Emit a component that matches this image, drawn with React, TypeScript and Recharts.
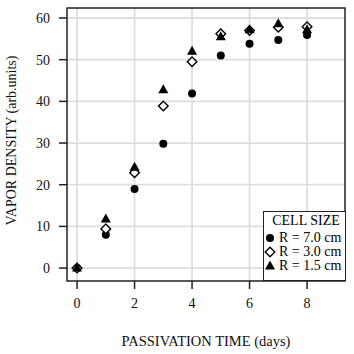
import { ScatterChart, Scatter, XAxis, YAxis, CartesianGrid, ReferenceArea } from 'recharts';

const days = [0, 1, 2, 3, 4, 5, 6, 7, 8];
const r70 = [0, 8, 19, 29.8, 41.9, 51, 53.8, 54.7, 55.9];
const r30 = [0, 9.4, 22.9, 38.9, 49.5, 56.2, 57, 57.8, 57.9];
const r15 = [0, 11.8, 24.2, 42.8, 52, 55.5, 57.2, 58.6, 57.2];

const xTicks = [0, 2, 4, 6, 8];
const yTicks = [0, 10, 20, 30, 40, 50, 60];
const xDomain: [number, number] = [-0.35, 9.32];
const yDomain: [number, number] = [-3.1, 62.4];

const toPoints = (vals: number[]) => days.map((d, i) => ({ x: d, y: vals[i] }));

const FONT = '"Liberation Serif", "Times New Roman", serif';
const INK = '#222';

function CircleDot({ cx, cy }: any) {
  return <circle cx={cx} cy={cy} r={4} fill="#000" />;
}

function DiamondDot({ cx, cy }: any) {
  const s = 4.8;
  return (
    <polygon
      points={`${cx},${cy - s} ${cx + s},${cy} ${cx},${cy + s} ${cx - s},${cy}`}
      fill="#fff"
      stroke="#000"
      strokeWidth={1.4}
    />
  );
}

function TriangleDot({ cx, cy }: any) {
  const w = 5;
  return (
    <polygon
      points={`${cx},${cy - 5.5} ${cx + w},${cy + 3.5} ${cx - w},${cy + 3.5}`}
      fill="#000"
    />
  );
}

function LegendBox() {
  const rows = [
    { label: 'R = 7.0 cm', icon: <circle cx={6} cy={7} r={4} fill="#000" /> },
    {
      label: 'R = 3.0 cm',
      icon: <polygon points="6,2.2 10.8,7 6,11.8 1.2,7" fill="#fff" stroke="#000" strokeWidth={1.4} />,
    },
    { label: 'R = 1.5 cm', icon: <polygon points="6,1.5 11,10.5 1,10.5" fill="#000" /> },
  ];
  return (
    <div
      style={{
        position: 'absolute',
        left: 263,
        top: 211,
        width: 83,
        height: 70,
        boxSizing: 'border-box',
        border: `1.5px solid ${INK}`,
        background: '#fff',
        fontFamily: FONT,
        fontSize: 14,
        color: '#000',
        padding: '2px 0 0 0',
        lineHeight: '14px',
        whiteSpace: 'nowrap',
      }}
    >
      <div style={{ textAlign: 'center', marginBottom: 3, paddingLeft: 3 }}>CELL SIZE</div>
      {rows.map((r) => (
        <div key={r.label} style={{ display: 'flex', alignItems: 'center' }}>
          <svg width={13} height={14} style={{ marginRight: 2 }}>
            {r.icon}
          </svg>
          <span>{r.label}</span>
        </div>
      ))}
    </div>
  );
}

export default function App() {
  const tickStyle = { fill: '#111', fontSize: 14, fontFamily: FONT };
  return (
    <div style={{ position: 'fixed', left: 0, top: 0, width: 354, height: 354, background: '#fff' }}>
      <ScatterChart width={354} height={354} margin={{ top: 8, right: 9, bottom: 0, left: 0 }}>
        <CartesianGrid stroke="#dedede" strokeWidth={1.8} horizontalValues={yTicks} verticalValues={xTicks} />
        <XAxis
          type="number"
          dataKey="x"
          domain={xDomain}
          ticks={xTicks}
          allowDataOverflow
          height={73}
          axisLine={false}
          tickSize={8}
          tickMargin={9}
          tickLine={{ stroke: INK, strokeWidth: 1.5 }}
          tick={tickStyle}
          label={{
            content: ({ viewBox }: any) => (
              <text
                x={viewBox.x + viewBox.width / 2}
                y={346}
                textAnchor="middle"
                fontFamily={FONT}
                fontSize={14.5}
                fill="#111"
              >
                PASSIVATION TIME (days)
              </text>
            ),
          }}
        />
        <YAxis
          type="number"
          dataKey="y"
          domain={yDomain}
          ticks={yTicks}
          allowDataOverflow
          width={67}
          axisLine={false}
          tickSize={8}
          tickMargin={9}
          tickLine={{ stroke: INK, strokeWidth: 1.5 }}
          tick={tickStyle}
          label={{
            content: ({ viewBox }: any) => (
              <text
                x={16}
                y={viewBox.y + viewBox.height / 2 - 4}
                transform={`rotate(-90 16 ${viewBox.y + viewBox.height / 2 - 4})`}
                textAnchor="middle"
                fontFamily={FONT}
                fontSize={14}
                fill="#111"
              >
                VAPOR DENSITY (arb.units)
              </text>
            ),
          }}
        />
        <ReferenceArea
          x1={xDomain[0]}
          x2={xDomain[1]}
          y1={yDomain[0]}
          y2={yDomain[1]}
          fill="none"
          fillOpacity={0}
          stroke={INK}
          strokeWidth={1.5}
          ifOverflow="visible"
        />
        <Scatter name="R = 7.0 cm" data={toPoints(r70)} shape={<CircleDot />} isAnimationActive={false} />
        <Scatter name="R = 3.0 cm" data={toPoints(r30)} shape={<DiamondDot />} isAnimationActive={false} />
        <Scatter name="R = 1.5 cm" data={toPoints(r15)} shape={<TriangleDot />} isAnimationActive={false} />
      </ScatterChart>
      <LegendBox />
    </div>
  );
}
